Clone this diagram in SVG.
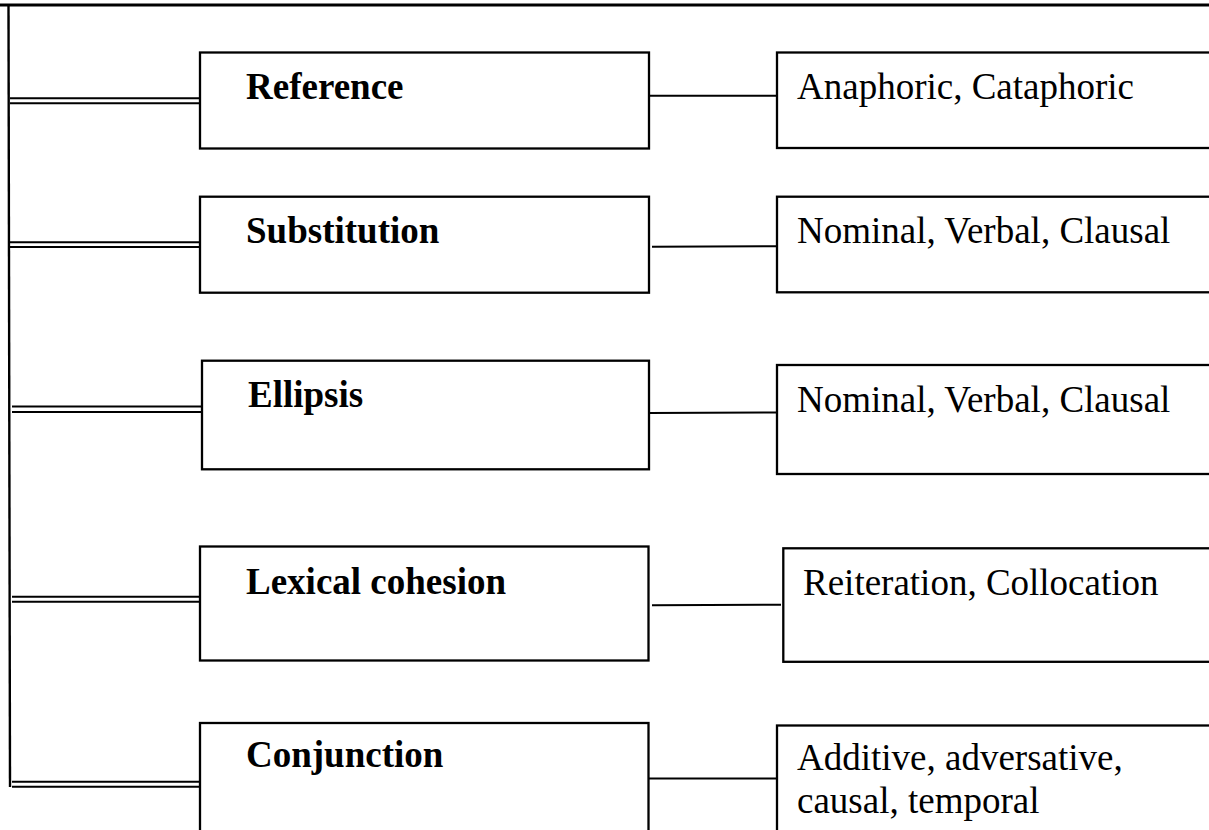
<svg xmlns="http://www.w3.org/2000/svg" width="1209" height="830" viewBox="0 0 1209 830">
<style>
.box{fill:#fff;stroke:#000;stroke-width:2.3}
.ln{stroke:#000;stroke-width:2;fill:none}
.dbl{stroke:#000;stroke-width:2;fill:none}
.lb{font-family:"Liberation Serif","Times New Roman",serif;font-size:37px;font-weight:bold;fill:#000}
.rt{font-family:"Liberation Serif","Times New Roman",serif;font-size:37px;fill:#000}
</style>
<rect width="1209" height="830" fill="#fff"/>
<g id="connectors">
<line class="ln" x1="0" y1="5" x2="1209" y2="5" style="stroke-width:3.2"/>
<line class="ln" x1="8.5" y1="5" x2="10" y2="787" style="stroke-width:2.4"/>
<path class="dbl" d="M10 98.3H200M10 103.3H200"/>
<path class="dbl" d="M10 242.3H200M10 247H200"/>
<path class="dbl" d="M12 406.5H202M12 412H202"/>
<path class="dbl" d="M12 596.7H200M12 601.7H200"/>
<path class="dbl" d="M12 781.7H200M12 786.7H200"/>
<line class="ln" x1="649" y1="95.7" x2="777" y2="95.7"/>
<line class="ln" x1="652" y1="246.7" x2="780" y2="246.3"/>
<line class="ln" x1="649" y1="413" x2="777" y2="412.5"/>
<line class="ln" x1="652" y1="605.3" x2="781" y2="604.7"/>
<line class="ln" x1="649" y1="778.5" x2="777" y2="778.5"/>
</g>
<g id="reference">
<rect class="box" x="200" y="52.5" width="449" height="96"/>
<text class="lb" x="246" y="99">Reference</text>
</g>
<g id="reference-types">
<rect class="box" x="777" y="52.5" width="450" height="95.5"/>
<text class="rt" x="797" y="99">Anaphoric, Cataphoric</text>
</g>
<g id="substitution">
<rect class="box" x="200" y="196.7" width="449" height="96"/>
<text class="lb" x="246" y="243">Substitution</text>
</g>
<g id="substitution-types">
<rect class="box" x="777" y="196.7" width="450" height="95.6"/>
<text class="rt" x="797" y="243">Nominal, Verbal, Clausal</text>
</g>
<g id="ellipsis">
<rect class="box" x="202" y="360.7" width="447" height="108.6"/>
<text class="lb" x="248" y="407">Ellipsis</text>
</g>
<g id="ellipsis-types">
<rect class="box" x="777" y="365" width="450" height="109"/>
<text class="rt" x="797" y="412">Nominal, Verbal, Clausal</text>
</g>
<g id="lexical-cohesion">
<rect class="box" x="200" y="546.5" width="448.5" height="114"/>
<text class="lb" x="246" y="594">Lexical cohesion</text>
</g>
<g id="lexical-types">
<rect class="box" x="783.3" y="548.3" width="450" height="113.5"/>
<text class="rt" x="803" y="595">Reiteration, Collocation</text>
</g>
<g id="conjunction">
<rect class="box" x="200" y="723" width="448.5" height="130"/>
<text class="lb" x="246" y="767">Conjunction</text>
</g>
<g id="conjunction-types">
<rect class="box" x="777" y="725.5" width="450" height="130"/>
<text class="rt" x="797" y="770">Additive, adversative,</text>
<text class="rt" x="797" y="813">causal, temporal</text>
</g>
</svg>
